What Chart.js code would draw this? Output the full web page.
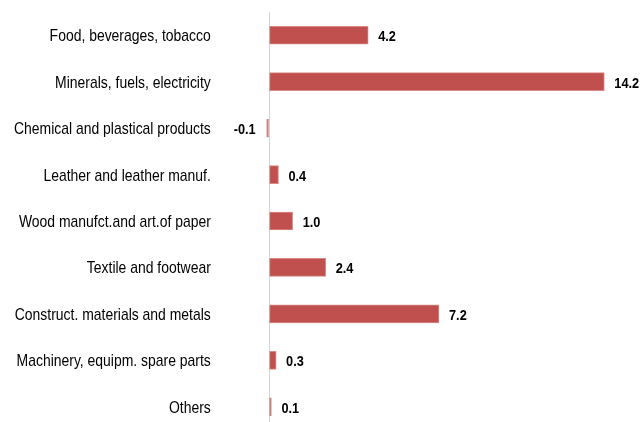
<!DOCTYPE html>
<html>
<head>
<meta charset="utf-8">
<script src="https://cdn.jsdelivr.net/npm/chart.js@4"></script>
<style>
  html, body { margin: 0; padding: 0; background: #fff; overflow: hidden; }
  #wrap { width: 644px; height: 430px; }
</style>
</head>
<body>
<div id="wrap"><canvas id="chart" width="644" height="430"></canvas></div>
<script>
  // categories and values
  var categories = [
    "Food, beverages, tobacco",
    "Minerals, fuels, electricity",
    "Chemical and plastical products",
    "Leather and leather manuf.",
    "Wood manufct.and art.of paper",
    "Textile and footwear",
    "Construct. materials and metals",
    "Machinery, equipm. spare parts",
    "Others"
  ];
  var values = [4.2, 14.2, -0.1, 0.4, 1.0, 2.4, 7.2, 0.3, 0.1];

  var barColor = "#C0504D";
  var fontFamily = "'Liberation Sans', Arial, sans-serif";

  // the original uses a narrow Helvetica, so text is squeezed horizontally
  function narrowText(ctx, txt, x, y, align, sx) {
    ctx.save();
    ctx.translate(x, y);
    ctx.scale(sx, 1);
    ctx.textAlign = align;
    ctx.fillText(txt, 0, 0);
    ctx.restore();
  }

  // category names and value labels
  var textLayer = {
    id: "textLayer",
    afterDatasetsDraw: function(chart) {
      var ctx = chart.ctx;
      var meta = chart.getDatasetMeta(0);
      var yScale = chart.scales.y;
      ctx.save();
      ctx.fillStyle = "#000";
      ctx.textBaseline = "alphabetic";

      ctx.font = "17px " + fontFamily;
      categories.forEach(function(name, i) {
        var y = yScale.getPixelForValue(i);
        narrowText(ctx, name, yScale.right - 11, y + 6, "right", 0.82);
      });

      ctx.font = "bold 15px " + fontFamily;
      meta.data.forEach(function(bar, i) {
        var v = values[i];
        var txt = v.toFixed(1);
        if (v < 0) {
          narrowText(ctx, txt, bar.x - 11, bar.y + 6, "right", 0.85);
        } else {
          narrowText(ctx, txt, bar.x + 10, bar.y + 6, "left", 0.85);
        }
      });
      ctx.restore();
    }
  };

  new Chart(document.getElementById("chart"), {
    type: "bar",
    data: {
      labels: categories,
      datasets: [{
        data: values,
        backgroundColor: barColor,
        borderColor: "#D98A87",
        borderWidth: 1,
        borderSkipped: false,
        barThickness: 18
      }]
    },
    options: {
      indexAxis: "y",
      responsive: false,
      animation: false,
      layout: { padding: { top: 12, right: 9, left: 0, bottom: 0 } },
      plugins: {
        legend: { display: false },
        tooltip: { enabled: false }
      },
      scales: {
        x: {
          min: -2,
          max: 15.5,
          ticks: { display: false, stepSize: 1 },
          border: { display: false },
          grid: {
            drawTicks: false,
            lineWidth: 1,
            color: function(c) {
              return c.tick && c.tick.value === 0 ? "#d4d4d4" : "rgba(0,0,0,0)";
            }
          }
        },
        y: {
          afterFit: function(scale) { scale.width = 221.8; },
          border: { display: false },
          grid: { display: false },
          ticks: { display: false }
        }
      }
    },
    plugins: [textLayer]
  });
</script>
</body>
</html>
